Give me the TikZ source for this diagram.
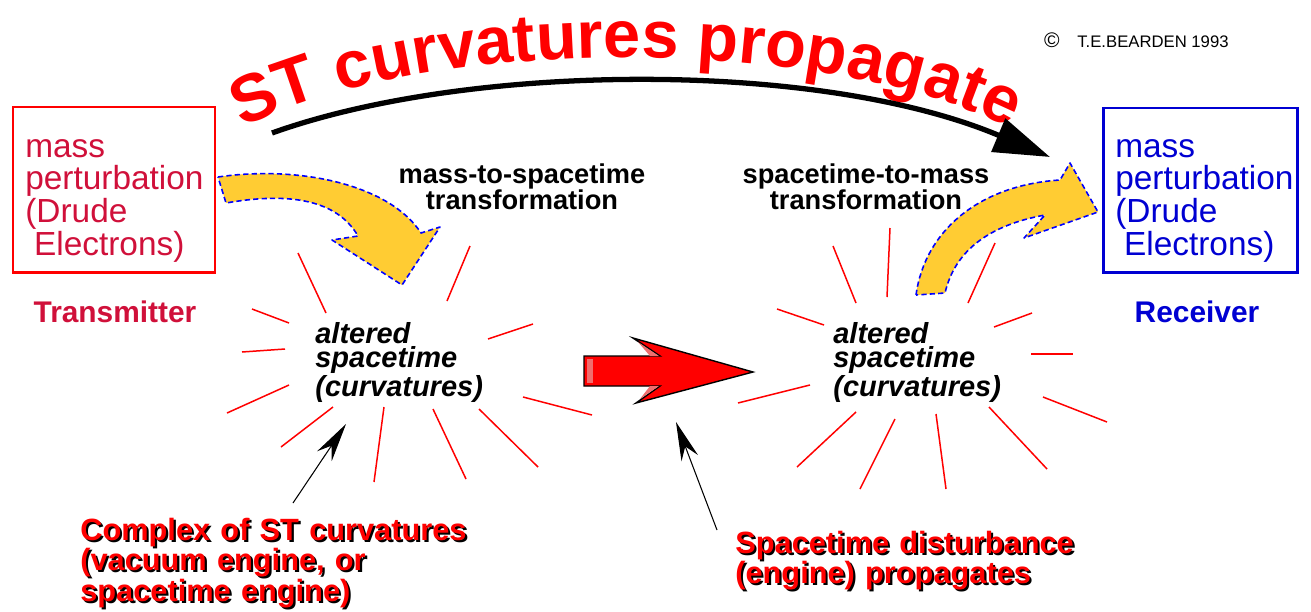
\documentclass[tikz,border=0pt]{standalone}
\usepackage{fontspec}
\setmainfont{Liberation Sans}
\usetikzlibrary{arrows.meta,decorations.text,positioning}
\definecolor{crimson}{RGB}{208,16,58}
\definecolor{deepblue}{RGB}{0,0,210}
\definecolor{gold}{RGB}{255,204,51}
\definecolor{bevel}{RGB}{240,110,110}
\tikzset{
  frame/.style={line width=1.7pt},
  boxtext/.style={font=\fontsize{19}{18.6}\selectfont, align=left, text width=40mm, inner sep=0pt},
  tag/.style={font=\fontsize{17}{17}\selectfont\bfseries},
  stepnote/.style={font=\fontsize{15.5}{14.8}\selectfont\bfseries, align=center, text width=60mm, inner sep=0pt},
  altered/.style={font=\fontsize{16.5}{14}\selectfont\bfseries\itshape, align=left, text width=40mm, inner sep=0pt},
  engine/.style={font=\fontsize{17.5}{17.4}\selectfont\bfseries, align=left, text width=80mm, inner sep=0pt},
  ray/.style={red, line width=0.85pt},
  pointer/.style={line width=0.6pt, -{Stealth[length=22pt, width=10pt]}},
  yellowarrow/.style={fill=gold, draw=blue, line width=0.9pt, dash pattern=on 3pt off 1.8pt, line join=round},
}
% red label with a black drop shadow
\newcommand\enginetext[3]{%
  \node[engine, black, anchor=base west, xshift=1.2pt, yshift=-1.2pt] at (#2) {#3};
  \node[engine, red, anchor=base west] (#1) at (#2) {#3};}
\begin{document}
\begin{tikzpicture}[x=0.2mm, y=-0.2mm]
\useasboundingbox (0,0) rectangle (1311,611);

% title along a curve
\path[decorate, decoration={text along path, text align=center,
  text={|\fontsize{38}{38}\selectfont\bfseries\color{red}|ST curvatures propagate}}]
  (222,140) .. controls (400,30) and (850,30) .. (1030,140);
\node[font=\fontsize{9.5}{9.5}\selectfont, anchor=base west] (credit) at (1038,47) {\fontsize{12}{12}\selectfont\textcopyright\hspace{10pt}\fontsize{9.5}{9.5}\selectfont T.E.BEARDEN 1993};

% transmitter and receiver
\node[draw=red, frame, minimum width=40.4mm, minimum height=33mm] (tx) at (114,189.5) {};
\node[boxtext, crimson, anchor=base west] (txtext) at (25,157) {mass\\perturbation\\(Drude\\\hspace*{5pt}Electrons)};
\node[tag, crimson, anchor=base] (txlabel) at (115,322) {Transmitter};
\node[draw=deepblue, frame, minimum width=38.8mm, minimum height=32.8mm] (rx) at (1200,190) {};
\node[boxtext, deepblue, anchor=base west] (rxtext) at (1115,157) {mass\\perturbation\\(Drude\\\hspace*{5pt}Electrons)};
\node[tag, deepblue, anchor=base] (rxlabel) at (1197,322) {Receiver};

% big black arc
\coordinate (arcstart) at (272,133);
\coordinate (arcend) at (1050,157);
\draw[line width=3pt, -{Triangle[length=32pt, width=20pt]}] (arcstart) .. controls (470,62) and (820,60) .. (arcend);

\node[stepnote, anchor=base] (masstost) at (522,183) {mass-to-spacetime\\transformation};
\node[stepnote, anchor=base] (sttomass) at (866,183) {spacetime-to-mass\\transformation};

% bursts
\foreach \xa/\ya/\xb/\yb in {298/253/326/313, 470/246/447/301, 252/309/289/323, 533/324/488/339,
  242/352/285/349, 227/413/289/385, 592/415/523/397, 281/447/333/407, 384/407/374/482,
  433/409/466/479, 479/409/538/467}
  \draw[ray] (\xa,\ya) -- (\xb,\yb);
\foreach \xa/\ya/\xb/\yb in {833/246/856/303, 890/228/887/297, 995/243/968/303, 777/309/824/325,
  1032/313/994/327, 1031/354/1073/354, 810/385/738/403, 1043/397/1107/422, 856/412/797/467,
  895/419/860/489, 936/414/946/489, 989/407/1047/469}
  \draw[ray] (\xa,\ya) -- (\xb,\yb);
\node[altered, anchor=base west] (leftst) at (315,343) {altered\\spacetime\\(curvatures)};
\node[altered, anchor=base west] (rightst) at (833,343) {altered\\spacetime\\(curvatures)};

% yellow transformation arrows
\draw[yellowarrow] (218,177) .. controls (300,165) and (390,185) .. (421,233) -- (440,227) -- (402,285)
  -- (332,240) -- (358,236) .. controls (340,205) and (300,190) .. (226,203) -- cycle;
\draw[yellowarrow] (916,295) .. controls (925,230) and (980,185) .. (1060,180) -- (1070,163) -- (1098,212)
  -- (1024,238) -- (1045,215) .. controls (990,225) and (955,250) .. (945,293) -- cycle;

% red propagation arrow
\draw[fill=red, line width=0.8pt] (584,356) -- (660,356) -- (633,338) -- (753,372) -- (636,403)
  -- (660,386) -- (584,386) -- cycle;
\fill[bevel] (587,359) rectangle (593,383);
\fill[bevel] (638,342) -- (659,356) -- (650,356) -- cycle;
\fill[bevel] (640,399) -- (659,386) -- (650,386) -- cycle;

% notes
\enginetext{complex}{80,540}{Complex of ST curvatures\\(vacuum engine, or\\spacetime engine)}
\enginetext{disturb}{735,553}{Spacetime disturbance\\(engine) propagates}
\coordinate (complexfoot) at (293,503);
\coordinate (leftcore) at (346,424);
\draw[pointer] (complexfoot) -- (leftcore);
\coordinate (disturbfoot) at (717,530);
\coordinate (midgap) at (676,422);
\draw[pointer] (disturbfoot) -- (midgap);
\end{tikzpicture}
\end{document}
